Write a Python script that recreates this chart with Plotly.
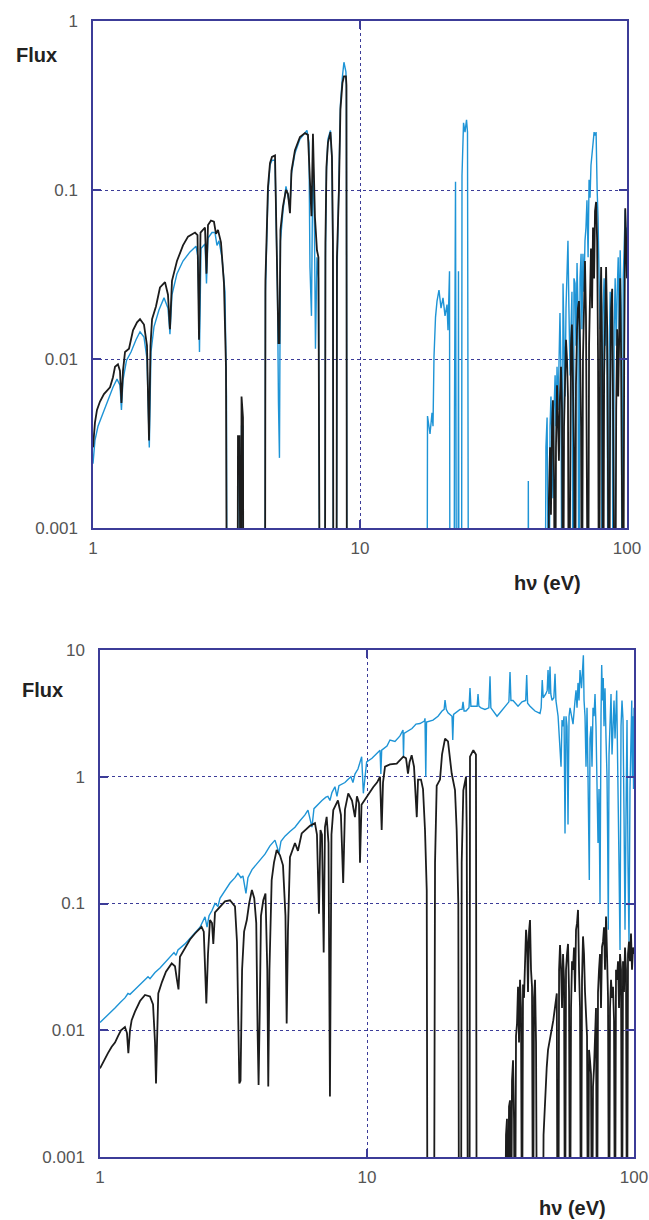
import plotly.graph_objects as go

# ---------------- data: (photon energy eV, flux) ----------------
LOW = 1e-4  # below the plotted range (line drops to the axis)

top_black_a = [(1.000,0.0030),(1.017,0.0042),(1.035,0.0050),(1.062,0.0056),(1.099,0.0062),(1.158,0.0068),
 (1.188,0.0078),(1.209,0.0090),(1.240,0.0093),(1.262,0.0085),(1.278,0.0055),(1.295,0.0085),(1.318,0.0110),
 (1.364,0.0115),(1.412,0.0148),(1.462,0.0165),(1.500,0.0172),(1.552,0.0160),(1.593,0.0120),(1.621,0.0033),
 (1.642,0.0120),(1.664,0.0172),(1.722,0.0205),(1.782,0.0265),(1.861,0.0285),(1.909,0.0240),(1.942,0.0150),
 (1.976,0.0290),(2.063,0.0380),(2.173,0.0470),(2.269,0.0530),(2.410,0.0560),(2.463,0.0540),(2.495,0.0130),
 (2.527,0.0560),(2.627,0.0600),(2.661,0.0320),(2.696,0.0620),(2.766,0.0660),(2.838,0.0650),(2.888,0.0550),
 (2.938,0.0580),(3.015,0.0490),(3.094,0.0280),(3.148,0.0090),(3.176,LOW),(3.476,LOW),(3.491,0.0035),
 (3.537,0.0035),(3.553,LOW),(3.584,LOW),(3.600,0.0060),(3.645,0.0045),(3.661,LOW)]
top_black_b = [(4.407,LOW),(4.424,0.029),(4.464,0.050),(4.522,0.104),(4.601,0.144),(4.680,0.157),(4.805,0.160),
 (4.846,0.087),(4.908,0.030),(4.950,0.0124),(4.993,0.0124),(5.036,0.058),(5.146,0.080),(5.281,0.100),
 (5.373,0.095),(5.467,0.073),(5.538,0.130),(5.707,0.172),(5.958,0.206),(6.221,0.217),(6.384,0.212),
 (6.495,0.110),(6.580,0.070),(6.665,0.215),(6.781,0.069),(6.899,0.044),(6.988,0.040),(7.078,LOW),
 (7.390,LOW),(7.422,0.049),(7.488,0.137),(7.585,0.190),(7.750,0.220),(7.852,0.157),(7.919,0.049),
 (7.953,LOW),(8.162,LOW),(8.197,0.040),(8.339,0.100),(8.447,0.300),(8.595,0.430),(8.706,0.470),
 (8.857,0.470),(8.895,0.420),(8.933,LOW)]
top_black_c = [(50.6,LOW),(51.0,0.0015),(51.5,0.003),(51.9,0.0012),(52.4,0.004),(52.8,0.0057),(53.3,0.002),
 (53.8,LOW),(54.2,0.003),(54.7,0.007),(55.2,0.004),(55.6,0.0025),(56.1,0.006),(56.6,0.009),(57.1,0.005),
 (57.6,LOW),(58.1,0.004),(58.6,0.008),(59.1,0.013),(59.6,0.010),(60.1,0.006),(60.6,LOW),(61.2,0.005),
 (61.7,0.012),(62.2,0.016),(62.8,0.008),(63.3,0.003),(63.9,LOW),(64.4,0.007),(65.0,0.015),(65.5,0.020),
 (66.1,0.022),(66.7,0.012),(67.3,0.004),(67.8,LOW),(68.4,0.010),(69.0,0.025),(69.6,0.038),(70.2,0.018),
 (70.8,0.006),(71.5,LOW),(72.1,0.012),(72.7,0.030),(73.3,0.045),(74.0,0.020),(74.6,0.060),(75.3,0.030),
 (75.9,0.075),(76.6,0.085),(77.3,0.050),(77.9,0.010),(78.6,LOW),(79.3,0.015),(80.0,0.035),(80.7,0.010),
 (81.4,LOW),(82.1,0.008),(82.8,0.020),(83.5,0.035),(84.3,0.015),(85.0,0.004),(85.7,LOW),(86.5,0.006),
 (87.2,0.020),(88.0,0.026),(88.7,0.010),(89.5,0.003),(90.3,LOW),(91.1,0.005),(91.9,0.015),(92.7,0.006),
 (93.5,0.012),(94.3,0.030),(95.1,0.010),(95.9,0.004),(96.8,LOW),(97.6,0.010),(98.5,0.078),(99.3,0.050),
 (100.0,0.030)]

top_blue_a = [(1.000,0.0024),(1.017,0.0033),(1.044,0.0040),(1.090,0.0048),(1.138,0.0057),(1.188,0.0068),
 (1.230,0.0076),(1.262,0.0070),(1.278,0.0050),(1.295,0.0075),(1.335,0.0098),(1.388,0.0110),(1.449,0.0130),
 (1.500,0.0145),(1.552,0.0135),(1.593,0.0100),(1.625,0.0030),(1.649,0.0110),(1.692,0.0155),(1.766,0.0195),
 (1.845,0.0230),(1.909,0.0200),(1.942,0.0140),(1.976,0.0240),(2.063,0.0320),(2.173,0.0380),(2.308,0.0430),
 (2.431,0.0465),(2.473,0.0400),(2.505,0.0110),(2.538,0.0450),(2.627,0.0480),(2.661,0.0280),(2.696,0.0520),
 (2.790,0.0560),(2.863,0.0560),(2.913,0.0470),(2.964,0.0500),(3.041,0.0400),(3.121,0.0250),(3.162,0.0060),
 (3.176,LOW),(3.476,LOW),(3.491,0.0025),(3.537,0.0030),(3.553,LOW),(3.593,LOW),(3.600,0.0040),
 (3.645,0.0040),(3.661,LOW)]
top_blue_b = [(4.407,LOW),(4.424,0.025),(4.464,0.045),(4.522,0.095),(4.601,0.140),(4.680,0.150),(4.805,0.150),
 (4.846,0.080),(4.908,0.025),(4.950,0.0055),(4.993,0.0026),(5.036,0.050),(5.146,0.075),(5.281,0.105),
 (5.373,0.090),(5.467,0.080),(5.538,0.125),(5.707,0.165),(5.958,0.200),(6.167,0.215),(6.329,0.225),
 (6.439,0.190),(6.495,0.035),(6.580,0.018),(6.665,0.180),(6.752,0.060),(6.811,0.0115),(6.899,0.040),
 (6.988,0.030),(7.078,LOW),(7.390,LOW),(7.422,0.040),(7.488,0.130),(7.585,0.200),(7.750,0.225),
 (7.852,0.150),(7.919,0.035),(7.953,LOW),(8.162,LOW),(8.197,0.030),(8.339,0.095),(8.447,0.320),
 (8.595,0.470),(8.706,0.570),(8.857,0.500),(8.895,0.400),(8.933,LOW)]
top_blue_c = [(17.82,LOW),(17.90,0.0046),(18.29,0.0036),(18.61,0.0048),(18.77,0.0040),(18.93,0.0103),
 (19.18,0.0177),(19.43,0.0220),(19.76,0.0256),(20.11,0.0200),(20.46,0.0230),(20.82,0.0180),(21.18,0.0210),
 (21.36,0.0148),(21.64,0.0330),(21.73,LOW),(22.50,LOW),(22.59,0.0050),(22.79,0.112),(22.98,LOW),
 (23.28,LOW),(23.38,0.033),(23.49,LOW),(24.00,LOW),(24.10,0.122),(24.42,0.250),(24.73,0.220),
 (25.06,0.260),(25.27,0.220),(25.49,LOW)]
top_blue_d = [(42.59,LOW),(42.70,0.0019),(42.89,LOW)]
top_blue_e = [(49.3,LOW),(49.7,0.003),(50.2,0.0045),(50.6,0.002),(51.0,LOW),(51.5,0.004),(51.9,0.006),
 (52.4,0.003),(52.8,0.0015),(53.3,0.005),(53.8,0.008),(54.2,0.004),(54.7,0.009),(55.2,0.005),(55.6,0.012),
 (56.1,0.0187),(56.6,0.008),(57.1,LOW),(57.6,0.028),(58.1,0.012),(58.6,0.006),(59.1,0.020),(59.6,0.035),
 (60.1,0.050),(60.6,0.020),(61.2,0.008),(61.7,0.015),(62.2,0.025),(62.8,LOW),(63.3,0.030),(63.9,0.028),
 (64.4,0.012),(65.0,0.037),(65.5,0.020),(66.1,LOW),(66.7,0.030),(67.3,0.042),(67.8,0.015),(68.4,0.042),
 (69.0,0.025),(69.6,0.050),(70.2,0.060),(70.8,0.087),(71.5,0.040),(72.1,0.115),(72.7,0.090),(73.3,0.140),
 (74.0,0.170),(74.6,0.200),(75.3,0.220),(75.9,0.210),(76.6,0.220),(77.3,0.100),(77.9,0.069),(78.6,0.030),
 (79.3,0.015),(80.0,0.025),(80.7,LOW),(81.4,0.020),(82.1,0.030),(82.8,0.012),(83.5,0.025),(84.3,0.008),
 (85.0,LOW),(85.7,0.010),(86.5,0.025),(87.2,0.012),(88.0,0.020),(88.7,LOW),(89.5,0.015),(90.3,0.030),
 (91.1,0.012),(91.9,0.025),(92.7,0.040),(93.5,0.015),(94.3,0.044),(95.1,0.020),(95.9,LOW),(96.8,0.030),
 (97.6,0.050),(98.5,0.076),(99.3,0.040),(100.0,0.060)]

bot_black_a = [(1.000,0.0050),(1.035,0.0058),(1.071,0.0066),(1.106,0.0074),(1.138,0.0080),(1.168,0.0090),
 (1.198,0.0100),(1.240,0.0106),(1.262,0.0095),(1.277,0.0066),(1.295,0.0100),(1.314,0.0120),(1.352,0.0140),
 (1.412,0.0170),(1.474,0.0190),(1.539,0.0185),(1.580,0.0160),(1.607,0.0080),(1.621,0.0038),(1.635,0.0080),
 (1.653,0.0195),(1.706,0.0240),(1.766,0.0290),(1.856,0.0337),(1.909,0.0320),(1.942,0.0250),(1.968,0.0210),
 (1.993,0.0380),(2.081,0.0450),(2.173,0.0520),(2.269,0.0580),(2.400,0.0655),(2.447,0.0600),(2.477,0.0300),
 (2.502,0.0163),(2.538,0.0400),(2.582,0.0740),(2.627,0.0700),(2.657,0.0480),(2.696,0.0850),(2.814,0.0950),
 (2.938,0.1040),(3.068,0.1060),(3.203,0.0950),(3.259,0.0500),(3.296,0.0100),(3.325,0.0038),(3.360,0.0040),
 (3.405,0.0300),(3.465,0.0600),(3.547,0.0740),(3.619,0.1000),(3.706,0.1280),(3.782,0.1100),(3.848,0.0700),
 (3.892,0.0100),(3.926,0.0037),(3.967,0.0150),(4.008,0.0800),(4.088,0.1060),(4.166,0.1200),(4.232,0.0300),
 (4.268,0.0036),(4.312,0.0300),(4.395,0.1530),(4.483,0.2100),(4.589,0.2640),(4.721,0.2400),(4.846,0.2000),
 (4.950,0.0800),(5.002,0.0113),(5.057,0.0600),(5.146,0.2320),(5.373,0.3000),(5.513,0.2600),(5.693,0.3570),
 (5.857,0.3800),(6.114,0.4100),(6.384,0.4300),(6.495,0.3500),(6.608,0.0830),(6.694,0.3800),(6.781,0.3500),
 (6.883,0.0410),(6.959,0.4000),(7.062,0.4830),(7.175,0.3000),(7.265,0.0030),(7.360,0.3500),(7.477,0.5460),
 (7.784,0.6500),(7.986,0.5000),(8.144,0.1450),(8.268,0.5500),(8.507,0.7400),(8.786,0.6500),(9.013,0.4800),
 (9.170,0.7000),(9.333,0.6200),(9.414,0.2100),(9.537,0.6000),(9.974,0.6950)]
bot_black_b = [(10.26,0.75),(10.56,0.83),(10.90,0.90),(11.19,1.00),(11.35,0.38),(11.48,0.90),(11.68,1.20),
 (12.19,1.25),(12.92,1.27),(13.29,1.35),(13.68,1.44),(14.00,1.40),(14.24,1.06),(14.43,1.30),(14.70,1.48),
 (15.00,1.20),(15.36,0.48),(15.53,0.95),(15.93,0.95),(16.21,0.80),(16.49,0.38),(16.74,0.127),(16.85,LOW),
 (17.82,LOW),(17.98,0.21),(18.24,0.85),(18.77,0.95),(19.10,1.50),(19.60,2.00),(20.11,1.90),(20.76,1.06),
 (21.36,0.785),(21.67,0.38),(21.98,0.10),(22.11,LOW),(22.50,LOW),(22.63,0.21),(22.95,0.78),(23.49,1.00),
 (23.63,0.38),(23.89,LOW),(24.21,LOW),(24.31,1.44),(25.02,1.62),(25.59,1.50),(25.75,LOW)]
bot_black_c = [(32.87,LOW),(33.16,0.0015),(33.44,0.0020),(33.73,LOW),(34.03,0.0025),(34.33,0.0028),
 (34.62,LOW),(34.92,0.0040),(35.23,0.0058),(35.53,0.0020),(35.84,LOW),(36.15,0.0090),(36.46,0.0113),
 (36.78,0.0220),(37.10,0.0080),(37.42,0.0250),(37.74,0.0150),(38.07,LOW),(38.40,0.0230),(38.73,0.0180),
 (39.07,0.0400),(39.41,0.0620),(39.75,0.0500),(40.09,0.0200),(40.44,0.0600),(40.79,0.0740),(41.14,0.0300),
 (41.50,0.0220),(41.86,LOW),(42.22,0.0180),(42.59,0.0250),(42.96,0.0080),(43.33,LOW),(45.52,LOW),
 (45.84,0.0015),(46.42,0.0030),(47.11,0.0051),(47.64,0.0070),(48.47,0.0089),(49.31,0.0105),(49.87,0.0120),
 (50.61,0.0160),(51.38,0.0195),(51.73,LOW),(52.09,LOW),(52.41,0.0300),(52.84,0.0470),(53.30,0.0300),
 (53.76,0.0150),(54.23,0.0400),(54.70,0.0250),(55.16,LOW),(55.64,0.0300),(56.13,0.0400),(56.61,0.0480),
 (57.11,0.0200),(57.60,LOW),(58.10,0.0150),(58.60,0.0350),(59.11,0.0300),(59.62,0.0450),(60.13,0.0200),
 (60.65,0.0620),(61.18,0.0700),(61.71,0.0890),(62.24,0.0300),(62.78,0.0150),(63.32,LOW),(63.87,0.0250),
 (64.42,0.0550),(64.98,0.0400),(65.55,0.0200),(66.11,0.0128),(66.69,0.0090),(67.26,LOW),(67.85,0.0070),
 (68.43,0.0058),(69.03,0.0045),(69.62,LOW),(70.22,0.0036),(70.83,0.0050),(71.45,0.0080),(72.06,0.0150),
 (72.69,LOW),(73.32,0.0200),(73.95,0.0300),(74.60,0.0400),(75.24,0.0150),(75.90,0.0455),(76.55,0.0500),
 (77.22,0.0650),(77.88,0.0300),(78.56,0.0790),(79.24,0.0400),(79.93,0.0180),(80.62,LOW),(81.32,0.0150),
 (82.02,0.0250),(82.73,0.0180),(83.45,0.0220),(84.17,0.0120),(84.90,LOW),(85.63,0.0300),(86.38,0.0250),
 (87.12,0.0350),(87.88,0.0150),(88.64,0.0400),(89.41,0.0300),(90.18,LOW),(90.96,0.0350),(91.75,0.0200),
 (92.54,0.0450),(93.34,0.0300),(94.15,LOW),(94.97,0.0400),(95.79,0.0500),(96.61,0.0350),(97.45,0.0580),
 (98.30,0.0300),(99.15,0.0450),(100.0,0.0400)]

bot_blue_a = [(1.000,0.0115),(1.044,0.0125),(1.090,0.0138),(1.138,0.0150),(1.188,0.0165),(1.240,0.0180),
 (1.273,0.0195),(1.295,0.0192),(1.352,0.0210),(1.412,0.0230),(1.474,0.0250),(1.513,0.0264),(1.539,0.0255),
 (1.607,0.0285),(1.678,0.0310),(1.751,0.0340),(1.829,0.0375),(1.893,0.0410),(1.926,0.0390),(1.959,0.0430),
 (2.081,0.0480),(2.173,0.0530),(2.269,0.0580),(2.369,0.0650),(2.473,0.0785),(2.517,0.0650),(2.561,0.0800),
 (2.627,0.0880),(2.696,0.1000),(2.766,0.0950),(2.814,0.1100),(2.938,0.1250),(3.068,0.1450),(3.203,0.1600),
 (3.286,0.1730),(3.372,0.1600),(3.430,0.1650),(3.521,0.1200),(3.582,0.1600),(3.710,0.1850),(3.848,0.2050),
 (3.973,0.2200),(4.148,0.2450),(4.331,0.2850),(4.522,0.3160),(4.601,0.2800),(4.680,0.2500),(4.763,0.3100),
 (4.929,0.3400),(5.146,0.3700),(5.373,0.4000),(5.609,0.4500),(5.857,0.5000),(6.010,0.5460),(6.114,0.4700),
 (6.221,0.4000),(6.329,0.5600),(6.554,0.6100),(6.781,0.6500),(7.016,0.6900),(7.138,0.7000),(7.265,0.6500),
 (7.390,0.7500),(7.585,0.8340),(7.718,0.7000),(7.852,0.8500),(8.058,0.8700),(8.268,0.9000),(8.483,0.9500),
 (8.706,1.0000),(8.857,0.9000),(9.013,1.0500),(9.250,1.1500),(9.55,1.4400),(9.69,0.7400),(9.97,1.3100)]
bot_blue_b = [(10.44,1.40),(11.00,1.55),(11.19,1.62),(11.27,1.05),(11.35,1.62),(11.88,1.75),(12.19,1.95),
 (12.73,1.90),(13.29,2.10),(13.64,2.34),(13.70,1.45),(13.76,2.20),(14.74,2.40),(15.26,2.60),(15.79,2.63),
 (16.40,2.75),(16.49,2.89),(16.60,1.00),(16.71,2.70),(17.67,2.80),(18.45,3.00),(19.10,3.30),(19.45,3.40),
 (19.60,4.03),(19.80,3.40),(20.11,3.20),(20.82,3.00),(20.95,1.95),(21.10,3.10),(22.30,3.40),(22.70,3.40),
 (22.89,3.90),(23.10,3.30),(23.49,3.30),(24.10,3.50),(24.31,5.00),(24.50,3.60),(24.95,3.60),(25.85,3.60),
 (26.05,4.50),(26.25,3.60),(26.73,3.50),(27.66,3.40),(28.60,3.50),(28.89,6.20),(29.10,3.50),(29.65,3.30),
 (30.69,3.00),(31.48,3.20),(32.87,3.60),(34.00,3.90),(34.33,6.70),(34.60,4.00),(35.23,4.00),(36.78,3.60),
 (38.07,3.90),(39.30,4.00),(39.64,6.35),(39.95,3.80),(40.79,3.60),(42.59,3.30),(44.47,3.16),(44.90,3.50),
 (45.33,5.80),(45.70,4.20),(46.72,4.50),(47.30,4.80),(47.65,6.95),(48.05,4.50),(48.47,7.40),(48.80,4.50),
 (49.31,4.00),(50.10,4.20),(50.61,6.50),(51.00,4.00),(51.96,3.00),(52.40,2.20),(53.30,1.20),(53.76,2.80),
 (54.23,2.50),(54.70,3.00),(55.16,0.357),(55.64,3.00),(56.13,2.50),(56.61,0.42),(57.11,3.00),(57.60,3.50),
 (59.11,2.60),(60.13,4.00),(60.65,4.80),(61.18,3.50),(61.71,5.50),(62.24,4.00),(62.78,6.95),(63.60,5.00),
 (64.62,9.10),(65.00,4.00),(65.55,3.00),(66.11,1.20),(66.69,3.50),(67.26,1.00),(68.02,0.153),(68.43,2.00),
 (69.03,2.50),(69.62,1.20),(70.22,3.50),(70.83,3.00),(71.45,4.50),(72.06,2.50),(72.69,1.00),(73.32,0.30),
 (73.95,0.80),(74.60,0.10),(75.24,3.00),(75.68,7.60),(76.20,4.00),(76.70,6.00),(77.22,2.50),(77.88,5.00),
 (78.56,2.00),(79.24,1.00),(79.70,0.30),(80.13,0.062),(80.62,1.50),(81.32,3.50),(82.02,4.50),(82.73,1.50),
 (83.45,3.00),(84.17,4.00),(84.90,2.00),(85.63,4.50),(86.13,4.80),(86.60,2.00),(87.12,1.00),(87.88,0.20),
 (88.64,0.043),(89.00,1.00),(89.41,2.50),(90.18,4.00),(90.96,2.80),(91.75,0.50),(92.54,0.062),(93.34,0.50),
 (94.15,2.80),(94.97,0.20),(95.79,0.05),(96.61,0.80),(97.45,2.50),(98.09,4.00),(98.60,1.00),(99.15,3.00),
 (99.60,0.80),(100.0,3.50)]

x_tick_vals = [1, 10, 100]
x_tick_text = ["1", "10", "100"]
top_y_vals = [0.001, 0.01, 0.1, 1]
top_y_text = ["0.001", "0.01", "0.1", "1"]
bot_y_vals = [0.001, 0.01, 0.1, 1, 10]
bot_y_text = ["0.001", "0.01", "0.1", "1", "10"]


def join(*segs):
    pts = [p for s in segs for p in s]
    return [p[0] for p in pts], [p[1] for p in pts]


W, H = 649, 1220
FRAME = "#3c3c98"
BLACK = "#1c1c1c"
BLUE = "#1e94d6"
FONT = "Liberation Sans, Arial, sans-serif"

fig = go.Figure()
series = [
    ("x", "y", join(top_blue_a, top_blue_b, top_blue_c, top_blue_d, top_blue_e), BLUE, 1.4),
    ("x", "y", join(top_black_a, top_black_b, top_black_c), BLACK, 1.8),
    ("x2", "y2", join(bot_blue_a, bot_blue_b), BLUE, 1.4),
    ("x2", "y2", join(bot_black_a, bot_black_b, bot_black_c), BLACK, 1.8),
]
for xa, ya, (xs, ys), col, w in series:
    fig.add_trace(go.Scatter(x=xs, y=ys, mode="lines", xaxis=xa, yaxis=ya,
                             line=dict(color=col, width=w), showlegend=False,
                             hoverinfo="skip"))

def px_x(a, b):
    return [a / W, b / W]

def px_y(top, bottom):
    return [1 - bottom / H, 1 - top / H]

common = dict(showline=True, linecolor=FRAME, linewidth=1.5, mirror="ticks",
              ticks="inside", ticklen=8, tickcolor=FRAME, tickwidth=1.5,
              showgrid=True, gridcolor=FRAME, griddash="dot", gridwidth=1,
              zeroline=False, type="log", automargin=False,
              tickfont=dict(family=FONT, size=17, color="#555555"))

fig.update_layout(
    width=W, height=H, margin=dict(l=0, r=0, t=0, b=0),
    paper_bgcolor="white", plot_bgcolor="white",
    xaxis=dict(common, domain=px_x(93, 627), range=[0, 2], anchor="y",
               tickvals=x_tick_vals, ticktext=x_tick_text, ticklabelstandoff=4),
    yaxis=dict(common, domain=px_y(21, 528), range=[-3, 0], anchor="x",
               tickvals=top_y_vals, ticktext=top_y_text, ticklabelstandoff=10),
    xaxis2=dict(common, domain=px_x(100, 634), range=[0, 2], anchor="y2",
                tickvals=x_tick_vals, ticktext=x_tick_text, ticklabelstandoff=4),
    yaxis2=dict(common, domain=px_y(650, 1157), range=[-3, 1], anchor="x2",
                tickvals=bot_y_vals, ticktext=bot_y_text, ticklabelstandoff=10),
)

lab = dict(family=FONT, size=20, color="#222222")
for txt, x, y, xa in [("<b>Flux</b>", 14, 55, "left"), ("<b>Flux</b>", 20, 690, "left"),
                      ("<b>hν (eV)</b>", 547, 583, "center"), ("<b>hν (eV)</b>", 572, 1208, "center")]:
    fig.add_annotation(text=txt, x=x / W, y=1 - y / H, xref="paper", yref="paper",
                       xanchor=xa, yanchor="middle", showarrow=False, font=lab)

fig.write_html("out.html", config={"displayModeBar": False},
               post_script="document.body.style.margin='0';document.body.style.overflow='hidden';")
